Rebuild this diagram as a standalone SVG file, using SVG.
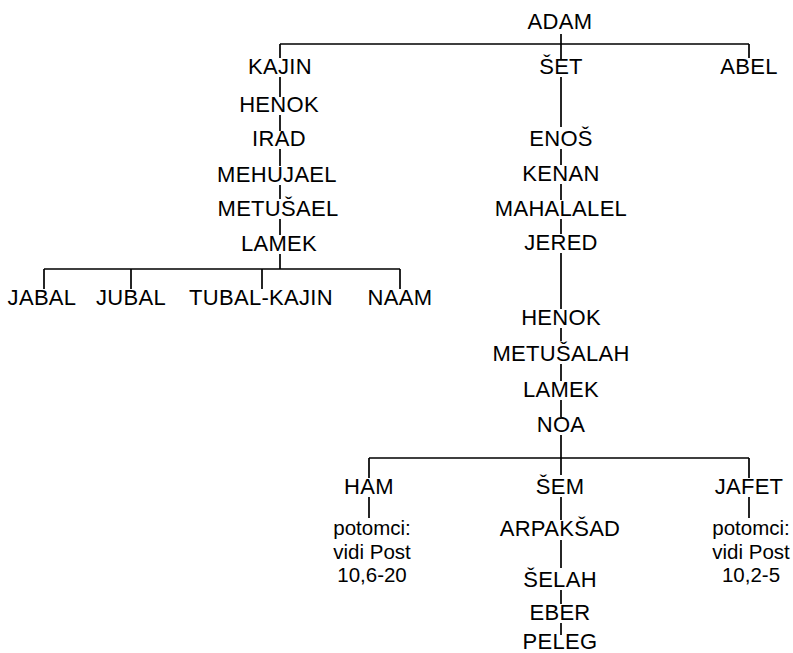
<svg xmlns="http://www.w3.org/2000/svg" width="793" height="653" viewBox="0 0 793 653">
<style>
text{font-family:"Liberation Sans",Arial,sans-serif;font-size:22px;letter-spacing:0.3px;fill:#000;text-anchor:middle}
text.s{font-size:20.5px;letter-spacing:0}
#connectors path{stroke:#000;stroke-width:1.7;fill:none}
</style>
<rect width="793" height="653" fill="#fff"/>
<g id="connectors">
<path d="M561 34V44M280 44H749M280 44V58M749 44V58M561 44V59"/>
<path d="M280 77V97M280 115V131M280 149V166M280 185V199M280 219V235M280 254V269M44 269H400M44 269V289M131 269V289M262 269V289M400 269V289"/>
<path d="M561 77V127M561 149V165M561 184V200M561 219V234M561 253V309M561 328V341M561 364V381M561 400V417M561 435V458"/>
<path d="M369 458H749M369 458V478M561 458V475M749 458V478M369 497V518M749 497V518"/>
<path d="M561 497V520M561 540V568M561 590V604M561 623V635"/>
</g>
<g id="adam"><text x="560" y="29">ADAM</text></g>
<g id="kajin"><text x="280" y="74">KAJIN</text></g>
<g id="set"><text x="561" y="74">ŠET</text></g>
<g id="abel"><text x="749" y="74">ABEL</text></g>
<g id="henok1"><text x="279" y="112">HENOK</text></g>
<g id="irad"><text x="279" y="146">IRAD</text></g>
<g id="mehujael"><text x="277" y="182">MEHUJAEL</text></g>
<g id="metusael"><text x="278" y="216">METUŠAEL</text></g>
<g id="lamek1"><text x="279" y="251">LAMEK</text></g>
<g id="jabal"><text x="42" y="305">JABAL</text></g>
<g id="jubal"><text x="131" y="305">JUBAL</text></g>
<g id="tubalkajin"><text x="261" y="305">TUBAL-KAJIN</text></g>
<g id="naam"><text x="400" y="305">NAAM</text></g>
<g id="enos"><text x="561" y="146">ENOŠ</text></g>
<g id="kenan"><text x="561" y="181">KENAN</text></g>
<g id="mahalalel"><text x="561" y="215.5">MAHALALEL</text></g>
<g id="jered"><text x="561" y="249.5">JERED</text></g>
<g id="henok2"><text x="561" y="325">HENOK</text></g>
<g id="metusalah"><text x="561" y="361">METUŠALAH</text></g>
<g id="lamek2"><text x="561" y="397">LAMEK</text></g>
<g id="noa"><text x="561" y="432">NOA</text></g>
<g id="ham"><text x="369" y="494">HAM</text></g>
<g id="sem"><text x="560" y="494">ŠEM</text></g>
<g id="jafet"><text x="749" y="494">JAFET</text></g>
<g id="ham-note"><text class="s" x="372" y="535">potomci:</text><text class="s" x="372" y="558.5">vidi Post</text><text class="s" x="372" y="582">10,6-20</text></g>
<g id="jafet-note"><text class="s" x="751" y="535">potomci:</text><text class="s" x="751" y="558.5">vidi Post</text><text class="s" x="751" y="582">10,2-5</text></g>
<g id="arpaksad"><text x="560" y="536">ARPAKŠAD</text></g>
<g id="selah"><text x="560" y="587">ŠELAH</text></g>
<g id="eber"><text x="560" y="620">EBER</text></g>
<g id="peleg"><text x="560" y="649">PELEG</text></g>
</svg>
